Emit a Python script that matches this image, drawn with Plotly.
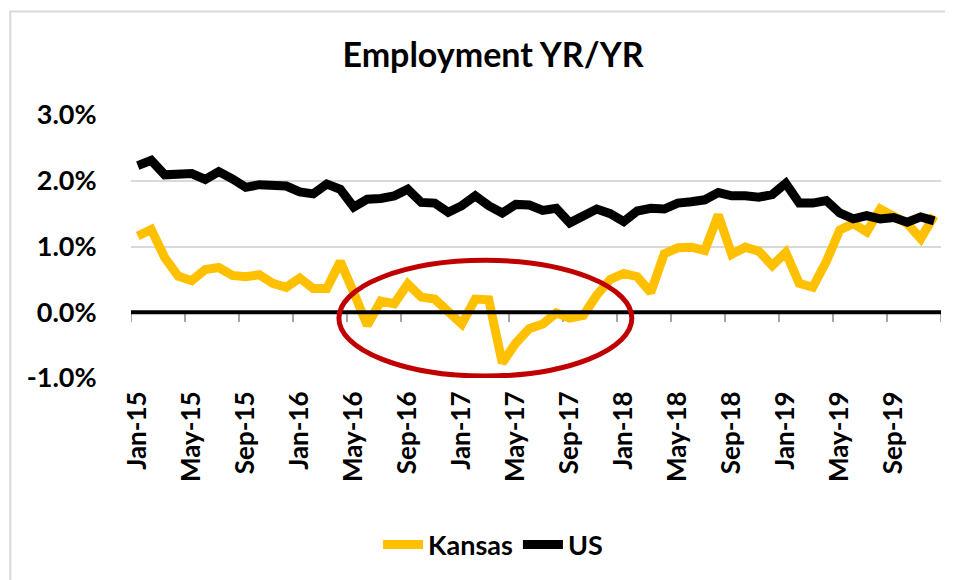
"""Employment year-over-year: Kansas vs US."""

import pandas as pd
import plotly.graph_objects as go

MONTHS = pd.date_range("2015-01-01", "2019-12-01", freq="MS").strftime("%b-%y").tolist()

KANSAS = [
    1.16, 1.26, 0.83, 0.55, 0.48, 0.65, 0.68, 0.56, 0.54, 0.57, 0.44, 0.38,
    0.52, 0.36, 0.36, 0.77, 0.30, -0.20, 0.17, 0.13, 0.43, 0.23, 0.20, 0.00,
    -0.18, 0.20, 0.19, -0.77, -0.47, -0.25, -0.18, -0.01, -0.09, -0.05, 0.26, 0.50,
    0.59, 0.54, 0.30, 0.89, 0.98, 0.99, 0.94, 1.48, 0.88, 0.99, 0.93, 0.71,
    0.91, 0.44, 0.38, 0.77, 1.25, 1.35, 1.22, 1.57, 1.45, 1.35, 1.12, 1.47,
]

US = [
    2.23, 2.31, 2.09, 2.11, 2.11, 2.02, 2.14, 2.03, 1.90, 1.94, 1.94, 1.92,
    1.83, 1.80, 1.95, 1.87, 1.60, 1.72, 1.73, 1.77, 1.87, 1.67, 1.66, 1.52,
    1.62, 1.77, 1.62, 1.51, 1.64, 1.63, 1.55, 1.58, 1.36, 1.46, 1.57, 1.50,
    1.38, 1.54, 1.58, 1.57, 1.66, 1.68, 1.71, 1.82, 1.77, 1.77, 1.75, 1.79,
    1.96, 1.66, 1.66, 1.70, 1.51, 1.42, 1.47, 1.42, 1.44, 1.37, 1.45, 1.39,
]

Y_TICKS = [-1, 0, 1, 2, 3]
LABEL_STEP = 4

FONT = "Lato"
KANSAS_COLOR = "#FFC000"
GRID_COLOR = "#D9D9D9"

x = list(range(len(MONTHS)))
label_idx = x[::LABEL_STEP]
# tick marks sit on category boundaries, labels centred in the category
tick_bounds = [i - 0.5 for i in range(0, len(MONTHS) + 1, LABEL_STEP)]

fig = go.Figure()

# small gray tick marks hanging below the 0% axis line
fig.add_trace(go.Scatter(
    x=tick_bounds, y=[0] * len(tick_bounds), mode="markers",
    marker=dict(size=1, opacity=0),
    error_y=dict(type="data", symmetric=False, array=[0] * len(tick_bounds),
                 arrayminus=[0.15] * len(tick_bounds),
                 color="#A6A6A6", thickness=2, width=0),
    showlegend=False, hoverinfo="skip",
))

fig.add_trace(go.Scatter(
    x=x, y=KANSAS, mode="lines", name="Kansas",
    line=dict(color=KANSAS_COLOR, width=9),
))
fig.add_trace(go.Scatter(
    x=x, y=US, mode="lines", name="US",
    line=dict(color="black", width=9),
))

shapes = [
    # black axis line at 0%
    dict(type="line", xref="paper", yref="y", x0=0, x1=1, y0=0, y1=0,
         line=dict(color="black", width=4), layer="above"),
    # highlight ellipse around the 2016-2017 dip
    dict(type="circle", xref="x", yref="y", x0=14.9, x1=36.6, y0=-0.97, y1=0.79,
         line=dict(color="#C00000", width=5), layer="above"),
    # chart border
    dict(type="rect", xref="paper", yref="paper", x0=-0.149, x1=1.03,
         y0=-0.79, y1=1.394, line=dict(color=GRID_COLOR, width=2), layer="below"),
]

fig.update_layout(
    width=953, height=580,
    margin=dict(l=123, r=20, t=107, b=210),
    paper_bgcolor="white", plot_bgcolor="white",
    font=dict(family=FONT, color="black", size=24, weight="bold"),
    title=dict(
        text="Employment YR/YR", x=0.509, xanchor="center",
        y=0.918, yanchor="middle", yref="container",
        font=dict(family=FONT, size=34, weight="bold", color="black"),
    ),
    xaxis=dict(
        range=[-0.5, len(MONTHS) - 0.5],
        tickmode="array", tickvals=label_idx,
        ticktext=[MONTHS[i] for i in label_idx],
        tickangle=-90, ticks="outside", ticklen=2, tickcolor="rgba(0,0,0,0)",
        showgrid=False, zeroline=False, showline=False,
        tickfont=dict(family=FONT, size=26, weight="bold"),
    ),
    yaxis=dict(
        range=[-1, 3], tickmode="array", tickvals=Y_TICKS,
        ticktext=[f"{v:.1f}%" for v in Y_TICKS],
        showgrid=True, gridcolor=GRID_COLOR, gridwidth=2,
        zeroline=False, showline=False,
        ticks="outside", ticklen=28, tickcolor="rgba(0,0,0,0)",
        tickfont=dict(family=FONT, size=27, weight="bold"),
    ),
    legend=dict(
        orientation="h", x=0.447, xanchor="center", y=-0.635, yanchor="middle",
        font=dict(family=FONT, size=27, weight="bold"),
        itemwidth=40, tracegroupgap=0,
    ),
    shapes=shapes,
)

fig.write_html("out.html")
